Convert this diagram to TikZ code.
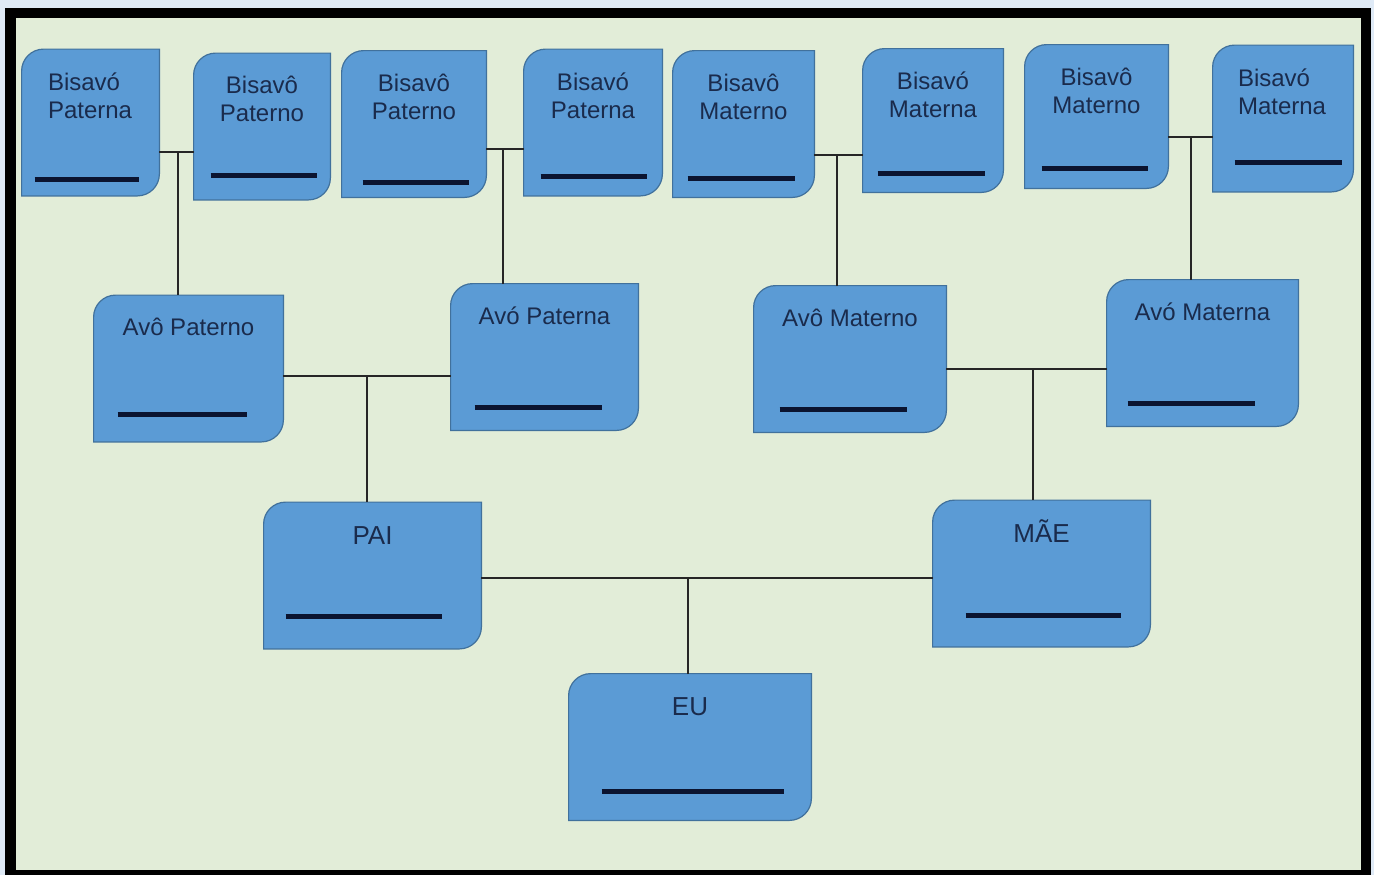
\documentclass[tikz,border=0pt]{standalone}
\usepackage{fontspec}
\setmainfont{Liberation Sans}
\usetikzlibrary{backgrounds}
\definecolor{fundo}{HTML}{DFEAF6}
\definecolor{quadro}{HTML}{E2EDD8}
\definecolor{caixa}{HTML}{5B9BD5}
\definecolor{borda}{HTML}{41719C}
\definecolor{tinta}{HTML}{1A2B4C}
\definecolor{traco}{HTML}{0B1430}
\begin{document}
\begin{tikzpicture}[x=0.5pt,y=-0.5pt]
	\tikzstyle{Pessoa} = [rectangle, inner sep=0pt, minimum height=73pt]
	\tikzstyle{Nome} = [anchor=north, yshift=-11.5pt, inner sep=0pt, align=center, text=tinta, font=\fontsize{12}{14}\selectfont]
	\tikzstyle{Grande} = [Nome, anchor=base, yshift=-9.5pt, font=\fontsize{13}{15}\selectfont]
	\tikzstyle{line} = [line width=0.75pt, black!85]
	
	\useasboundingbox (0,0) rectangle (1374,875);
	\begin{scope}[on background layer]
		\fill[fundo] (0,0) rectangle (1374,875);
		\fill[black] (5,8) rectangle (1371,875);
		\fill[quadro] (16,18) rectangle (1361,870);
	\end{scope}
	
	% bisavos
	\node (bp1) [Pessoa, minimum width=68.5pt, label={[Nome, anchor=north west, xshift=13pt, align=left]north west:{Bisavó\\Paterna}}] at (90.5,122.5) {};
	\node (bp2) [Pessoa, minimum width=68pt, label={[Nome]north:{Bisavô\\Paterno}}] at (262,126.5) {};
	\node (bp3) [Pessoa, minimum width=72pt, label={[Nome]north:{Bisavô\\Paterno}}] at (414,124) {};
	\node (bp4) [Pessoa, minimum width=69pt, label={[Nome]north:{Bisavó\\Paterna}}] at (593,122.5) {};
	\node (bp5) [Pessoa, minimum width=70.5pt, label={[Nome]north:{Bisavô\\Materno}}] at (743.5,124) {};
	\node (bp6) [Pessoa, minimum width=70pt, minimum height=71.5pt, label={[Nome]north:{Bisavó\\Materna}}] at (933,120.5) {};
	\node (bp7) [Pessoa, minimum width=71.5pt, minimum height=71.5pt, label={[Nome]north:{Bisavô\\Materno}}] at (1096.5,116.5) {};
	\node (bp8) [Pessoa, minimum width=70pt, label={[Nome, anchor=north west, xshift=12.5pt, align=left]north west:{Bisavó\\Materna}}] at (1283,118.5) {};
	
	% avos
	\node (ap) [Pessoa, minimum width=94.5pt, label={[Nome]north:Avô Paterno}] at (188.5,368.5) {};
	\node (apa) [Pessoa, minimum width=93.5pt, label={[Nome]north:Avó Paterna}] at (544.5,357) {};
	\node (am) [Pessoa, minimum width=96pt, label={[Nome]north:Avô Materno}] at (850,359) {};
	\node (ama) [Pessoa, minimum width=95.5pt, label={[Nome]north:Avó Materna}] at (1202.5,353) {};
	
	% pais e eu
	\node (pai) [Pessoa, minimum width=108.5pt, label={[Grande]north:PAI}] at (372.5,575.5) {};
	\node (mae) [Pessoa, minimum width=108.5pt, label={[Grande]north:MÃE}] at (1041.5,573.5) {};
	\node (eu) [Pessoa, minimum width=121pt, label={[Grande]north:EU}] at (690,747) {};
	
	\begin{scope}[on background layer]
		\foreach \n in {bp1,bp2,bp3,bp4,bp5,bp6,bp7,bp8,ap,apa,am,ama,pai,mae,eu}
			\draw[fill=caixa, draw=borda, line width=0.6pt]
			(\n.north east) -- ([xshift=11pt]\n.north west) arc[start angle=90, end angle=180, radius=11pt]
			-- (\n.south west) -- ([xshift=-11pt]\n.south east) arc[start angle=270, end angle=360, radius=11pt] -- cycle;
	\end{scope}
	
	% linhas para escrever
	\foreach \n/\l/\w/\h in {bp1/13/104/16, bp2/17/106/24, bp3/21/106/15, bp4/17/106/19,
		bp5/15/107/19, bp6/15/107/19, bp7/17/106/20, bp8/22/107/29,
		ap/24/129/27, apa/24/127/23, am/26/127/23, ama/21/127/23,
		pai/22/156/32, mae/33/155/31, eu/33/182/29}
		\draw[line width=2.5pt, traco] ([shift={(\l,-\h)}]\n.south west) -- ++(\w,0);
	
	\coordinate (j1) at (178,152);
	\coordinate (j2) at (503,149);
	\coordinate (j3) at (837,155);
	\coordinate (j4) at (1191,137);
	\coordinate (j5) at (367,376);
	\coordinate (j6) at (1033,369);
	\coordinate (j7) at (688,578);
	
	\draw[line] (bp1.east |- j1) -- (bp2.west |- j1);
	\draw[line] (j1) -- (ap.north -| j1);
	\draw[line] (bp3.east |- j2) -- (bp4.west |- j2);
	\draw[line] (j2) -- (apa.north -| j2);
	\draw[line] (bp5.east |- j3) -- (bp6.west |- j3);
	\draw[line] (j3) -- (am.north -| j3);
	\draw[line] (bp7.east |- j4) -- (bp8.west |- j4);
	\draw[line] (j4) -- (ama.north -| j4);
	\draw[line] (ap.east |- j5) -- (apa.west |- j5);
	\draw[line] (j5) -- (pai.north -| j5);
	\draw[line] (am.east |- j6) -- (ama.west |- j6);
	\draw[line] (j6) -- (mae.north -| j6);
	\draw[line] (pai.east |- j7) -- (mae.west |- j7);
	\draw[line] (j7) -- (eu.north -| j7);
\end{tikzpicture}
\end{document}
